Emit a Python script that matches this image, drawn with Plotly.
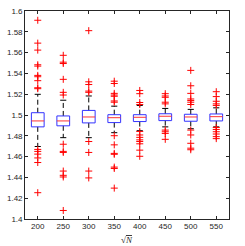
import plotly.graph_objects as go

positions = [200, 250, 300, 350, 400, 450, 500, 550]
q1 = [1.4886, 1.4896, 1.4924, 1.4927, 1.4937, 1.4946, 1.4940, 1.4943]
medians = [1.4943, 1.4943, 1.4981, 1.4974, 1.4978, 1.4988, 1.4981, 1.4984]
q3 = [1.5022, 1.4991, 1.5044, 1.5003, 1.5003, 1.5012, 1.5007, 1.5010]
whisk_lo = [1.4697, 1.4782, 1.4782, 1.4830, 1.4849, 1.4886, 1.4868, 1.4886]
whisk_hi = [1.5199, 1.5142, 1.5183, 1.5085, 1.5092, 1.5063, 1.5054, 1.5069]
outliers = [
    [1.5911, 1.5691, 1.5624, 1.5483, 1.5470, 1.5381, 1.5368, 1.5330, 1.5262, 1.5253,
     1.4669, 1.4650, 1.4624, 1.4587, 1.4543, 1.4253],
    [1.5574, 1.5508, 1.5495, 1.5343, 1.5218, 1.5192,
     1.4719, 1.4650, 1.4640, 1.4461, 1.4420, 1.4404, 1.4082],
    [1.5811, 1.5319, 1.5293, 1.5230, 1.5218,
     1.4745, 1.4640, 1.4461, 1.4395],
    [1.5325, 1.5303, 1.5208, 1.5192, 1.5180, 1.5135, 1.5123,
     1.4801, 1.4713, 1.4631, 1.4622, 1.4499, 1.4486, 1.4297],
    [1.5236, 1.5205, 1.5120, 1.5101,
     1.4842, 1.4808, 1.4785, 1.4761, 1.4745, 1.4723, 1.4662, 1.4603],
    [1.5205, 1.5183, 1.5170, 1.5123, 1.5107,
     1.4855, 1.4839, 1.4823, 1.4766],
    [1.5429, 1.5281, 1.5208, 1.5154, 1.5139, 1.5123, 1.5101,
     1.4855, 1.4808, 1.4728, 1.4681, 1.4666],
    [1.5224, 1.5177, 1.5132, 1.5107, 1.5092,
     1.4880, 1.4861, 1.4839, 1.4817, 1.4792, 1.4773],
]

HW = 12.5   # box half width (data units)
CW = 6.0    # cap half width

fig = go.Figure()

wx, wy, cx, cy, bx, by, mx, my, ox, oy = [], [], [], [], [], [], [], [], [], []
for i, p in enumerate(positions):
    wx += [p, p, None, p, p, None]
    wy += [q3[i], whisk_hi[i], None, q1[i], whisk_lo[i], None]
    cx += [p - CW, p + CW, None, p - CW, p + CW, None]
    cy += [whisk_hi[i], whisk_hi[i], None, whisk_lo[i], whisk_lo[i], None]
    bx += [p - HW, p + HW, p + HW, p - HW, p - HW, None]
    by += [q1[i], q1[i], q3[i], q3[i], q1[i], None]
    mx += [p - HW, p + HW, None]
    my += [medians[i], medians[i], None]
    for v in outliers[i]:
        ox.append(p)
        oy.append(v)

fig.add_trace(go.Scatter(x=wx, y=wy, mode="lines",
                         line=dict(color="black", width=1, dash="5px,3px"),
                         hoverinfo="skip", showlegend=False))
fig.add_trace(go.Scatter(x=cx, y=cy, mode="lines",
                         line=dict(color="black", width=1),
                         hoverinfo="skip", showlegend=False))
fig.add_trace(go.Scatter(x=bx, y=by, mode="lines",
                         line=dict(color="#3333ff", width=1),
                         hoverinfo="skip", showlegend=False))
fig.add_trace(go.Scatter(x=mx, y=my, mode="lines",
                         line=dict(color="#ff3333", width=1),
                         hoverinfo="skip", showlegend=False))
fig.add_trace(go.Scatter(x=ox, y=oy, mode="markers",
                         marker=dict(symbol="cross-thin-open", size=5, color="red",
                                     line=dict(color="red", width=1)),
                         hoverinfo="skip", showlegend=False))

axis_common = dict(
    showgrid=False, zeroline=False, showline=True, linecolor="#262626",
    linewidth=0.7, mirror="ticks", ticks="inside", ticklen=3, tickwidth=0.7,
    tickcolor="#262626", tickfont=dict(family="Liberation Sans, Arial", size=8, color="#262626"),
)

fig.update_layout(
    width=245, height=246,
    margin=dict(l=20, r=16, t=7, b=27),
    paper_bgcolor="white", plot_bgcolor="white",
    xaxis=dict(range=[175, 575], tickvals=positions,
               ticktext=[str(p) for p in positions], **axis_common),
    yaxis=dict(range=[1.4, 1.6], dtick=0.02, tick0=1.4, **axis_common),
    annotations=[dict(
        text="√<span style='text-decoration:overline'><i>N</i></span>",
        xref="paper", yref="paper", x=0.5, y=0, yshift=-21,
        showarrow=False, xanchor="center", yanchor="middle",
        font=dict(family="Liberation Serif, Times New Roman", size=9, color="#262626"),
    )],
)

fig.write_html("out.html", config={"displayModeBar": False},
               post_script="document.body.style.margin='0';document.body.style.overflow='hidden';")
